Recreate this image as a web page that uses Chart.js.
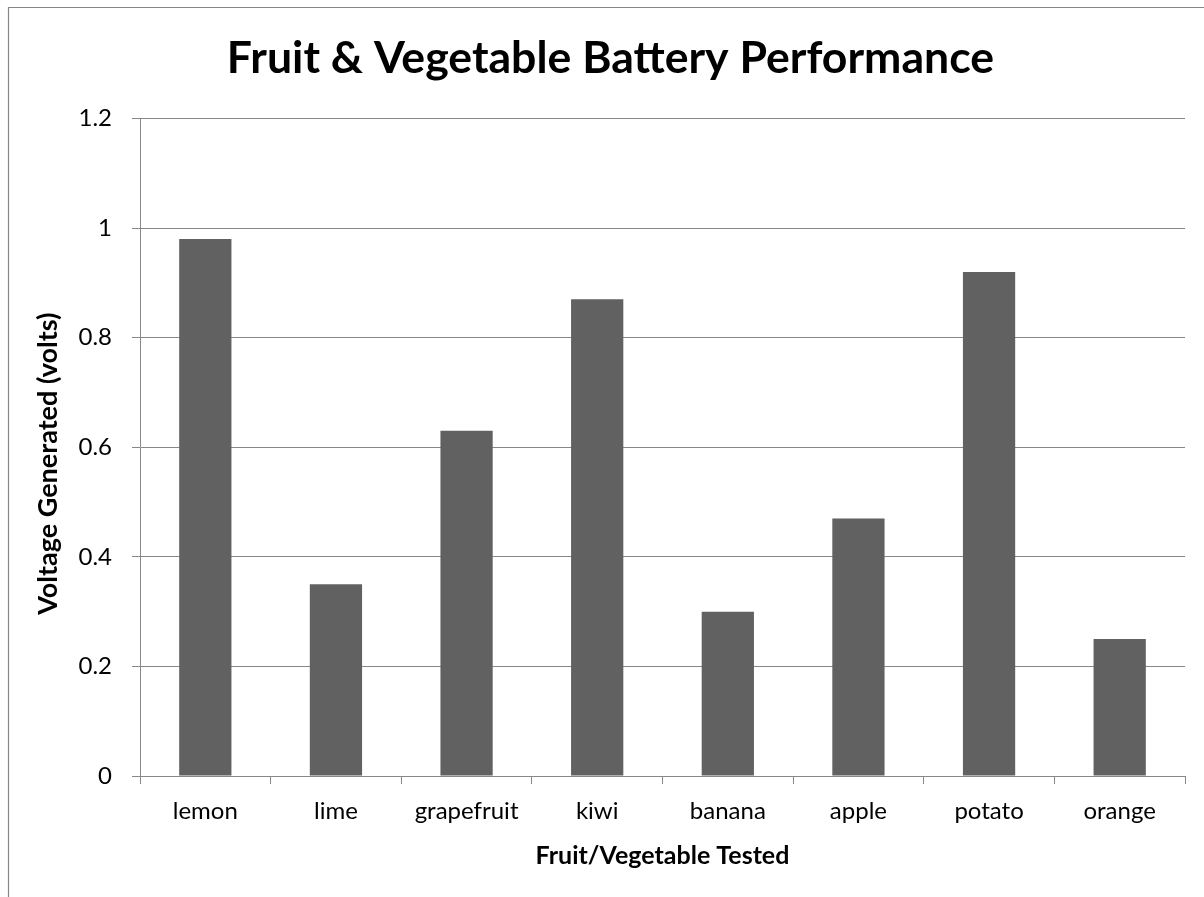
<!DOCTYPE html>
<html>
<head>
<meta charset="utf-8">
<script src="https://cdn.jsdelivr.net/npm/chart.js@4/dist/chart.umd.min.js"></script>
<style>
  html, body { margin: 0; padding: 0; background: #fff; }
  #wrap { width: 1204px; height: 897px; position: relative; }
</style>
</head>
<body>
<div id="wrap"><canvas id="chart"></canvas></div>
<script>
// chart data
var categories = ['lemon', 'lime', 'grapefruit', 'kiwi', 'banana', 'apple', 'potato', 'orange'];
var voltages = [0.98, 0.35, 0.63, 0.87, 0.30, 0.47, 0.92, 0.25];
var yTicks = [0, 0.2, 0.4, 0.6, 0.8, 1, 1.2];
var yTickLabels = ['0', '0.2', '0.4', '0.6', '0.8', '1', '1.2'];

var FONT = 'Lato, "Open Sans", sans-serif';
var GRID = '#888888';

// outer frame (only top and left edges are visible in the picture)
var framePlugin = {
    id: 'frame',
    beforeDraw: function (chart) {
        var ctx = chart.ctx;
        ctx.save();
        ctx.strokeStyle = '#868686';
        ctx.lineWidth = 1.2;
        ctx.beginPath();
        ctx.moveTo(8.5, chart.height);
        ctx.lineTo(8.5, 7.5);
        ctx.lineTo(chart.width, 7.5);
        ctx.stroke();
        ctx.restore();
    }
};

new Chart(document.getElementById('chart').getContext('2d'), {
    type: 'bar',
    data: {
        labels: categories,
        datasets: [{
            label: 'Voltage',
            data: voltages,
            backgroundColor: '#616161',
            borderWidth: 0,
            barPercentage: 0.4,
            categoryPercentage: 1
        }]
    },
    options: {
        responsive: true,
        maintainAspectRatio: false,
        animation: false,
        // left padding keeps the title centred where the original frame puts it
        layout: { padding: { left: 36, right: 19, top: 0, bottom: 0 } },
        plugins: {
            legend: { display: false },
            tooltip: { enabled: false },
            title: {
                display: true,
                text: 'Fruit & Vegetable Battery Performance',
                color: '#000',
                font: { family: FONT, size: 44.6, weight: 'bold', lineHeight: 1.2 },
                padding: { top: 32, bottom: 33 }
            }
        },
        scales: {
            x: {
                grid: {
                    display: true,
                    drawOnChartArea: false,
                    drawTicks: true,
                    tickLength: 8,
                    color: GRID,
                    offset: true
                },
                border: { display: true, color: GRID, width: 1 },
                ticks: {
                    color: '#000',
                    padding: 13,
                    maxRotation: 0,
                    font: { family: FONT, size: 24 }
                },
                title: {
                    display: true,
                    text: 'Fruit/Vegetable Tested',
                    color: '#000',
                    font: { family: FONT, size: 25, weight: 'bold', lineHeight: 1.2 },
                    padding: { top: 0, bottom: 26 }
                },
                afterFit: function (scale) { scale.height = 121; }
            },
            y: {
                min: 0,
                max: 1.2,
                grid: {
                    color: GRID,
                    lineWidth: 1,
                    drawTicks: true,
                    tickLength: 8
                },
                border: { display: true, color: GRID, width: 1 },
                afterBuildTicks: function (scale) {
                    scale.ticks = yTicks.map(function (v) { return { value: v }; });
                },
                ticks: {
                    color: '#000',
                    padding: 20,
                    font: { family: FONT, size: 24 },
                    callback: function (value) {
                        var i = yTicks.indexOf(value);
                        return i >= 0 ? yTickLabels[i] : '';
                    }
                },
                title: {
                    display: true,
                    text: 'Voltage Generated (volts)     ',
                    color: '#000',
                    font: { family: FONT, size: 27, weight: 'bold', lineHeight: 1 },
                    padding: { top: -1, bottom: 0 }
                },
                afterFit: function (scale) { scale.width = 104; }
            }
        }
    },
    plugins: [framePlugin]
});
</script>
</body>
</html>
